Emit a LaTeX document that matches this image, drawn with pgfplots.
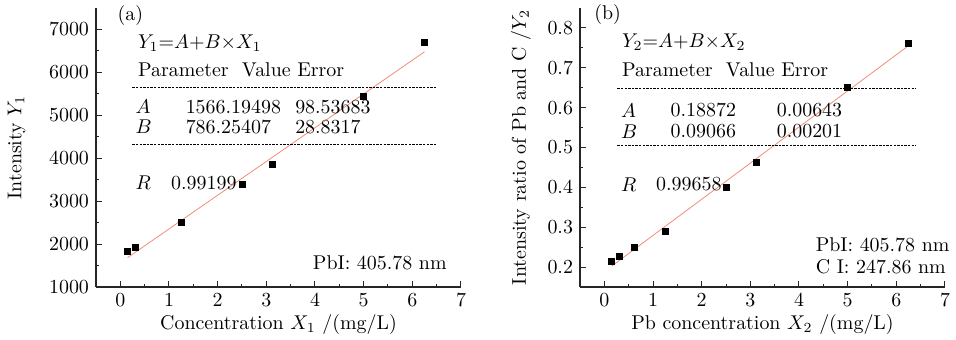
\documentclass[border=0pt]{standalone}
\usepackage{pgfplots}
\pgfplotsset{compat=1.18}
\definecolor{fitc}{RGB}{242,140,120}
\begin{document}
\fontsize{10}{12}\selectfont
\begin{tikzpicture}
\pgfplotsset{
  common/.style={
    scale only axis,
    width=182.5bp, height=139.5bp,
    axis lines*=left,
    axis line style={black!85, line width=0.6pt},
    tick style={black!85, line width=0.5pt},
    tick align=inside,
    major tick length=3bp, minor tick length=1.6bp,
    xmin=-0.5, xmax=7, xtick={0,...,7}, minor x tick num=1,
    minor y tick num=1,
    tick label style={font=\fontsize{10}{12}\selectfont},
    label style={font=\fontsize{10}{12}\selectfont},
    xlabel style={yshift=3bp},
    clip=false,
  }
}
\begin{axis}[common, at={(48bp,26.5bp)}, anchor=south west,
  ymin=1000, ymax=7500, ytick={1000,2000,...,7000},
  yticklabel style={/pgf/number format/1000 sep={}},
  xlabel={Concentration $X_1$ /(mg/L)},
  ylabel={Intensity $Y_1$},
  ylabel style={yshift=5bp}]
\addplot[fitc, line width=0.4pt] coordinates {(0.15,1684.1) (6.25,6480.3)};
\addplot[only marks, mark=square*, mark size=1.5bp, black] coordinates {
(0.15,1830) (0.31,1930) (1.25,2510) (2.5,3380) (3.12,3850) (5.0,5430) (6.25,6690)};
\node[anchor=west] at (axis cs:-0.2,7333) {(a)};
\node[anchor=west] at (axis cs:0.22,6681) {$Y_1{=}A{+}B{\times}X_1$};
\node[anchor=west] at (axis cs:0.22,6053) {Parameter\ \ Value Error};
\draw[dashed, dash pattern=on 1.2pt off 0.6pt, line width=0.4pt] (axis cs:0.25,5658) -- (axis cs:6.48,5658);
\node[anchor=west] at (axis cs:0.17,5193) {$A$};
\node[anchor=west] at (axis cs:1.2,5193) {1566.19498};
\node[anchor=west] at (axis cs:3.45,5193) {98.53683};
\node[anchor=west] at (axis cs:0.17,4728) {$B$};
\node[anchor=west] at (axis cs:1.2,4728) {786.25407};
\node[anchor=west] at (axis cs:3.45,4728) {28.8317};
\draw[dashed, dash pattern=on 1.2pt off 0.6pt, line width=0.4pt] (axis cs:0.25,4333) -- (axis cs:6.48,4333);
\node[anchor=west] at (axis cs:0.17,3426) {$R$};
\node[anchor=west] at (axis cs:0.9,3426) {0.99199};
\node[anchor=east] at (axis cs:6.85,1565) {PbI: 405.78 nm};
\end{axis}
\begin{axis}[common, at={(290bp,26.5bp)}, anchor=south west,
  ymin=0.15, ymax=0.85, ytick={0.2,0.3,...,0.8},
  yticklabel style={/pgf/number format/.cd, fixed, precision=1, fixed zerofill},
  xlabel={Pb concentration $X_2$ /(mg/L)},
  ylabel={Intensity ratio of Pb and C /$Y_2$},
  ylabel style={yshift=1.5bp}]
\addplot[fitc, line width=0.4pt] coordinates {(0.15,0.20232) (6.25,0.75535)};
\addplot[only marks, mark=square*, mark size=1.5bp, black] coordinates {
(0.15,0.214) (0.31,0.226) (0.62,0.25) (1.25,0.29) (2.5,0.40) (3.12,0.462) (5.0,0.65) (6.25,0.762)};
\node[anchor=west] at (axis cs:-0.35,0.833) {(b)};
\node[anchor=west] at (axis cs:0.22,0.763) {$Y_2{=}A{+}B{\times}X_2$};
\node[anchor=west] at (axis cs:0.22,0.695) {Parameter\ \ Value Error};
\draw[dashed, dash pattern=on 1.2pt off 0.6pt, line width=0.4pt] (axis cs:0.27,0.648) -- (axis cs:6.39,0.648);
\node[anchor=west] at (axis cs:0.2,0.593) {$A$};
\node[anchor=west] at (axis cs:1.22,0.593) {0.18872};
\node[anchor=west] at (axis cs:3.4,0.593) {0.00643};
\node[anchor=west] at (axis cs:0.2,0.540) {$B$};
\node[anchor=west] at (axis cs:1.22,0.540) {0.09066};
\node[anchor=west] at (axis cs:3.4,0.540) {0.00201};
\draw[dashed, dash pattern=on 1.2pt off 0.6pt, line width=0.4pt] (axis cs:0.27,0.505) -- (axis cs:6.39,0.505);
\node[anchor=west] at (axis cs:0.2,0.407) {$R$};
\node[anchor=west] at (axis cs:0.92,0.407) {0.99658};
\node[anchor=west, align=left] at (axis cs:4.2,0.228) {PbI: 405.78 nm\\[-1pt]C I: 247.86 nm};
\end{axis}
\pgfresetboundingbox
\path[use as bounding box] (0,0) rectangle (478bp,170bp);
\end{tikzpicture}
\end{document}
